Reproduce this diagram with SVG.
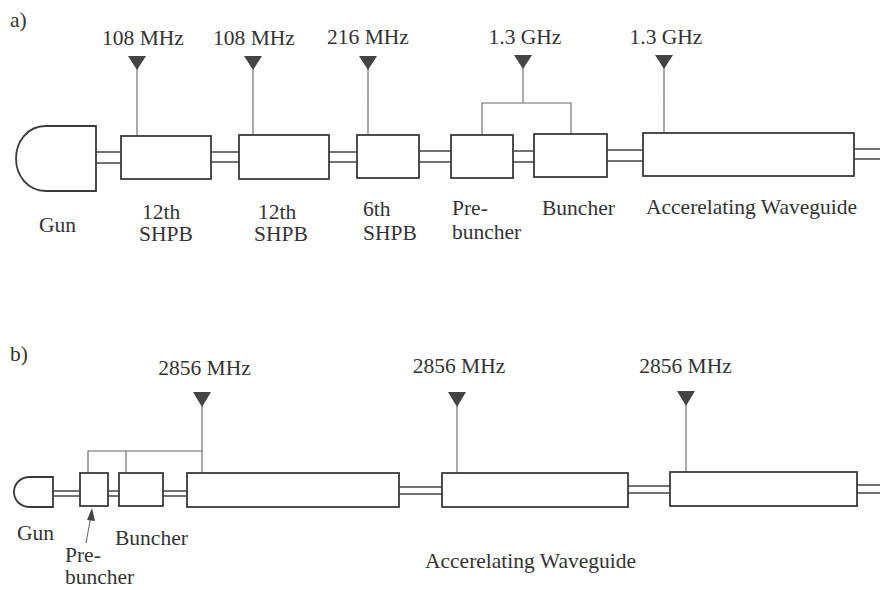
<svg xmlns="http://www.w3.org/2000/svg" width="880" height="590" viewBox="0 0 880 590" font-family="'Liberation Serif', 'DejaVu Serif', serif">
<style>
.bx{fill:#fff;stroke:#3a3a3a;stroke-width:1.8}
.pp{stroke:#444;stroke-width:1.6;fill:none}
.fd{stroke:#666;stroke-width:1.1;fill:none}
.ant{fill:#444}
text{font-family:'Liberation Serif','DejaVu Serif',serif;font-size:21.5px;fill:#333}
.c{text-anchor:middle}
</style>
<rect width="880" height="590" fill="#fff"/>
<text x="10" y="27">a)</text>
<text x="10" y="361">b)</text>

<!-- Panel a connectors -->
<g id="connectors-a">
<path class="pp" d="M96,152H121M96,163H121"/>
<path class="pp" d="M211,152H239M211,162H239"/>
<path class="pp" d="M329,152H357M329,162H357"/>
<path class="pp" d="M419,151H451M419,162H451"/>
<path class="pp" d="M513,151H534M513,162H534"/>
<path class="pp" d="M607,150H643M607,161H643"/>
<path class="pp" d="M854,149H880M854,159H880"/>
<path class="fd" d="M137,68V136M253,68V135M368,68V135M523,68V103M482,135V103H571V134M664,68V133"/>
</g>

<g id="gun-a"><path class="bx" d="M96,126H46C27,126 16,142 16,158.5C16,175 27,191 46,191H96Z"/><text x="39" y="232">Gun</text></g>
<g id="shpb12-1"><rect class="bx" x="121" y="136" width="90" height="43"/><text x="142" y="219">12th</text><text x="139" y="241">SHPB</text></g>
<g id="shpb12-2"><rect class="bx" x="239" y="135" width="90" height="44"/><text x="258" y="219">12th</text><text x="254" y="241">SHPB</text></g>
<g id="shpb6"><rect class="bx" x="357" y="135" width="62" height="43"/><text x="363" y="216">6th</text><text x="363" y="240">SHPB</text></g>
<g id="prebuncher-a"><rect class="bx" x="451" y="135" width="62" height="43"/><text x="452" y="215">Pre-</text><text x="452" y="239">buncher</text></g>
<g id="buncher-a"><rect class="bx" x="534" y="134" width="73" height="43"/><text x="542" y="215">Buncher</text></g>
<g id="waveguide-a"><rect class="bx" x="643" y="133" width="211" height="43"/><text x="646" y="214">Accerelating Waveguide</text></g>

<g id="rf-a1"><polygon class="ant" points="128,56 146,56 137,70"/><text class="c" x="143" y="45">108 MHz</text></g>
<g id="rf-a2"><polygon class="ant" points="244,56 262,56 253,70"/><text class="c" x="254" y="45">108 MHz</text></g>
<g id="rf-a3"><polygon class="ant" points="359,56 377,56 368,70"/><text class="c" x="368" y="44">216 MHz</text></g>
<g id="rf-a4"><polygon class="ant" points="514,55 532,55 523,69"/><text class="c" x="525" y="44">1.3 GHz</text></g>
<g id="rf-a5"><polygon class="ant" points="655,55 673,55 664,69"/><text class="c" x="666" y="44">1.3 GHz</text></g>

<!-- Panel b connectors -->
<g id="connectors-b">
<path class="pp" d="M53,491H80M53,496H80"/>
<path class="pp" d="M108,491H119M108,496H119"/>
<path class="pp" d="M163,491H187M163,496H187"/>
<path class="pp" d="M399,487H442M399,494H442"/>
<path class="pp" d="M628,486H670M628,493H670"/>
<path class="pp" d="M857,485H880M857,493H880"/>
<path class="fd" d="M202,405V473M88,473V451H202M126,451V473M457,405V473M686,405V472"/>
<path class="fd" d="M86,543L91,516"/>
<polygon class="ant" points="92,508 87,520 95,521"/>
</g>

<g id="gun-b"><path class="bx" d="M53,477H30C20,477 14,484 14,492C14,500 20,507 30,507H53Z"/><text x="17" y="540">Gun</text></g>
<g id="prebuncher-b"><rect class="bx" x="80" y="473" width="28" height="33"/><text x="65" y="562">Pre-</text><text x="65" y="584">buncher</text></g>
<g id="buncher-b"><rect class="bx" x="119" y="473" width="44" height="33"/><text x="115" y="545">Buncher</text></g>
<g id="waveguide-b1"><rect class="bx" x="187" y="473" width="212" height="34"/></g>
<g id="waveguide-b2"><rect class="bx" x="442" y="473" width="186" height="34"/><text x="425" y="568">Accerelating Waveguide</text></g>
<g id="waveguide-b3"><rect class="bx" x="670" y="472" width="187" height="34"/></g>

<g id="rf-b1"><polygon class="ant" points="193,392 211,392 202,407"/><text class="c" x="204.5" y="375">2856 MHz</text></g>
<g id="rf-b2"><polygon class="ant" points="448,392 466,392 457,407"/><text class="c" x="459" y="373">2856 MHz</text></g>
<g id="rf-b3"><polygon class="ant" points="677,391 695,391 686,406"/><text class="c" x="685.5" y="373">2856 MHz</text></g>
</svg>
